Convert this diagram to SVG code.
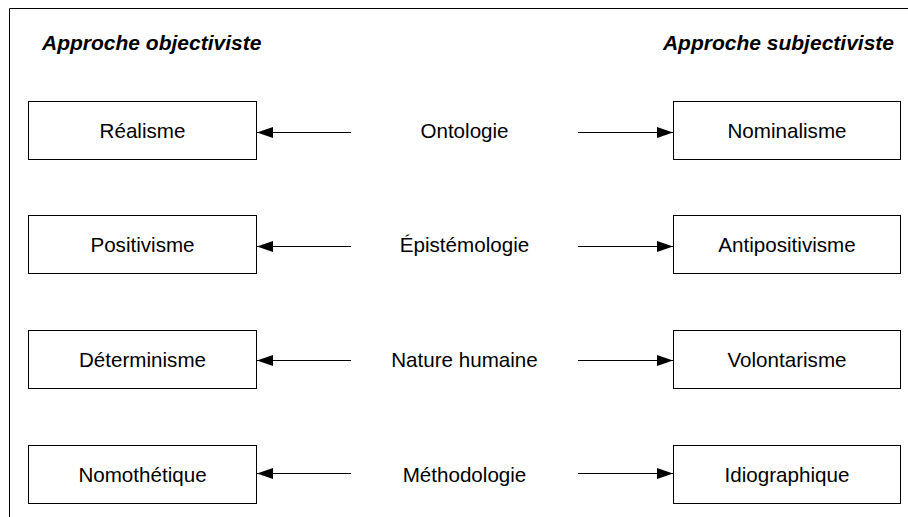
<svg xmlns="http://www.w3.org/2000/svg" width="908" height="517" viewBox="0 0 908 517">
<style>
.box{fill:#fff;stroke:#000;stroke-width:1}
.lbl{font-family:"Liberation Sans",Arial,sans-serif;font-size:20.6px;fill:#000;text-anchor:middle}
.hdr{font-family:"Liberation Sans",Arial,sans-serif;font-size:21px;font-weight:bold;font-style:italic;fill:#000}
.conn{stroke:#000;stroke-width:1;fill:none;marker-end:url(#ah)}
.frame{stroke:#000;stroke-width:1;fill:none}
</style>
<defs>
<marker id="ah" markerUnits="userSpaceOnUse" markerWidth="18" markerHeight="12" refX="16" refY="5.5" orient="auto">
<path d="M0,0 L16,5.5 L0,11 Z" fill="#000"/>
</marker>
</defs>
<path class="frame" d="M9.5,517 V8.5 H908"/>
<text class="hdr" x="42" y="50">Approche objectiviste</text>
<text class="hdr" x="894" y="50" text-anchor="end">Approche subjectiviste</text>
<g id="realisme"><rect class="box" x="28.5" y="101.5" width="228" height="58"/><text class="lbl" x="142.5" y="137.5">Réalisme</text></g>
<g id="ontologie"><text class="lbl" x="464.5" y="137.5">Ontologie</text></g>
<g id="nominalisme"><rect class="box" x="673.5" y="101.5" width="227" height="58"/><text class="lbl" x="787" y="137.5">Nominalisme</text></g>
<g id="positivisme"><rect class="box" x="28.5" y="215.5" width="228" height="58"/><text class="lbl" x="142.5" y="251.5">Positivisme</text></g>
<g id="epistemologie"><text class="lbl" x="464.5" y="251.5">Épistémologie</text></g>
<g id="antipositivisme"><rect class="box" x="673.5" y="215.5" width="227" height="58"/><text class="lbl" x="787" y="251.5">Antipositivisme</text></g>
<g id="determinisme"><rect class="box" x="28.5" y="330.5" width="228" height="58"/><text class="lbl" x="142.5" y="366.5">Déterminisme</text></g>
<g id="nature"><text class="lbl" x="464.5" y="366.5">Nature humaine</text></g>
<g id="volontarisme"><rect class="box" x="673.5" y="330.5" width="227" height="58"/><text class="lbl" x="787" y="366.5">Volontarisme</text></g>
<g id="nomothetique"><rect class="box" x="28.5" y="445.5" width="228" height="58"/><text class="lbl" x="142.5" y="481.5">Nomothétique</text></g>
<g id="methodologie"><text class="lbl" x="464.5" y="481.5">Méthodologie</text></g>
<g id="idiographique"><rect class="box" x="673.5" y="445.5" width="227" height="58"/><text class="lbl" x="787" y="481.5">Idiographique</text></g>
<g id="connectors">
<line class="conn" x1="351" y1="132.5" x2="257" y2="132.5"/>
<line class="conn" x1="578" y1="132.5" x2="673" y2="132.5"/>
<line class="conn" x1="351" y1="246.5" x2="257" y2="246.5"/>
<line class="conn" x1="578" y1="246.5" x2="673" y2="246.5"/>
<line class="conn" x1="351" y1="360.5" x2="257" y2="360.5"/>
<line class="conn" x1="578" y1="360.5" x2="673" y2="360.5"/>
<line class="conn" x1="351" y1="473.5" x2="257" y2="473.5"/>
<line class="conn" x1="578" y1="473.5" x2="673" y2="473.5"/>
</g>
</svg>
